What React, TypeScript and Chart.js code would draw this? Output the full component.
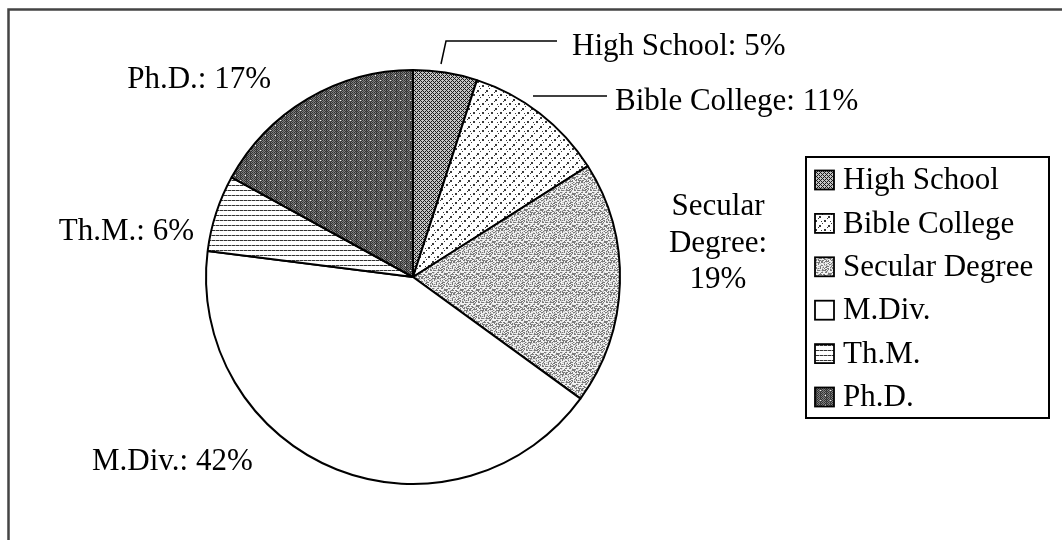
import React, { useEffect, useRef } from "react";
import { Chart, registerables } from "chart.js";

Chart.register(...registerables);

// ---- data ----
const categories: string[] = ["High School", "Bible College", "Secular Degree", "M.Div.", "Th.M.", "Ph.D."];
const percentages: number[] = [5, 11, 19, 42, 6, 17];

// ---- style ----
const FONT = "31px 'Liberation Serif', 'Times New Roman', serif";

function makeTile(w: number, h: number, fn: (x: number, y: number) => string): HTMLCanvasElement {
  const c = document.createElement("canvas");
  c.width = w;
  c.height = h;
  const ctx = c.getContext("2d")!;
  for (let y = 0; y < h; y++) {
    for (let x = 0; x < w; x++) {
      ctx.fillStyle = fn(x, y);
      ctx.fillRect(x, y, 1, 1);
    }
  }
  return c;
}

function makePatterns(ctx: CanvasRenderingContext2D): (CanvasPattern | string)[] {
  const hs = makeTile(4, 4, (x, y) => ((x + y) % 4 === 0 || (x - y + 4) % 4 === 0 ? "#1c1c1c" : "#c4c4c4"));
  const bc = makeTile(9, 9, (x, y) => {
    const dots = [[0, 0], [1, 0], [0, 1], [1, 1], [5, 4], [6, 5], [5, 5], [6, 4], [3, 7], [8, 2], [2, 5]];
    return dots.some(([a, b]) => a === x && b === y) ? "#3a3a3a" : "#ffffff";
  });
  const sd = makeTile(16, 16, (x, y) => {
    const h = ((x * 37 + y * 71 + x * y * 13) ^ (x * 5 + y * 3)) % 10;
    return h < 3 ? "#7a7a7a" : h < 5 ? "#c4c4c4" : "#f2f2f2";
  });
  const th = makeTile(4, 5, (x, y) => (y === 0 ? (x < 3 ? "#333333" : "#999999") : "#ffffff"));
  const ph = makeTile(10, 10, (x, y) => {
    if (x === 5 && y === 5) return "#ffffff";
    if (x === 0 && y === 0) return "#eeeeee";
    const base = (x + y) % 2 === 0 ? "#303030" : "#7e7e7e";
    return x % 3 === 0 && y % 2 === 1 ? "#4a4a4a" : base;
  });
  return [
    ctx.createPattern(hs, "repeat")!,
    ctx.createPattern(bc, "repeat")!,
    ctx.createPattern(sd, "repeat")!,
    "#ffffff",
    ctx.createPattern(th, "repeat")!,
    ctx.createPattern(ph, "repeat")!,
  ];
}

// label layout relative to pie centre (style only)
type LabelLayout = { dx: number; dy: number; align: CanvasTextAlign; lines?: string[]; leader?: [number, number][] };
const labelLayout: LabelLayout[] = [
  { dx: 159, dy: -222, align: "left", leader: [[28, -213], [33, -236], [144, -236]] },
  { dx: 202, dy: -167, align: "left", leader: [[120, -181], [194, -181]] },
  { dx: 305, dy: -62, align: "center", lines: ["Secular", "Degree:", "19%"] },
  { dx: -321, dy: 193, align: "left" },
  { dx: -219, dy: -37, align: "right" },
  { dx: -142, dy: -189, align: "right" },
];

const framePlugin = {
  id: "frame",
  beforeDraw(chart: any) {
    const ctx = chart.ctx as CanvasRenderingContext2D;
    ctx.save();
    ctx.fillStyle = "#ffffff";
    ctx.fillRect(0, 0, chart.width, chart.height);
    ctx.strokeStyle = "#444444";
    ctx.lineWidth = 2.5;
    ctx.beginPath();
    ctx.moveTo(chart.width, 9.5);
    ctx.lineTo(8.5, 9.5);
    ctx.lineTo(8.5, chart.height);
    ctx.stroke();
    ctx.restore();
  },
};

const labelPlugin = {
  id: "pieLabels",
  afterDraw(chart: any) {
    const ctx = chart.ctx as CanvasRenderingContext2D;
    const meta = chart.getDatasetMeta(0);
    const arc0 = meta.data[0];
    const cx = arc0.x;
    const cy = arc0.y;
    const labels: string[] = chart.data.labels;
    const vals: number[] = chart.data.datasets[0].data;
    ctx.save();
    ctx.font = FONT;
    ctx.fillStyle = "#000";
    ctx.textBaseline = "alphabetic";
    labels.forEach((lab, i) => {
      const L = labelLayout[i];
      ctx.textAlign = L.align;
      const lines = L.lines ?? [`${lab}: ${vals[i]}%`];
      lines.forEach((ln, k) => {
        ctx.fillText(ln, cx + L.dx, cy + L.dy + k * 36.5);
      });
      if (L.leader) {
        ctx.strokeStyle = "#000";
        ctx.lineWidth = 1.5;
        ctx.beginPath();
        L.leader.forEach(([px, py], k) => {
          if (k === 0) ctx.moveTo(cx + px, cy + py);
          else ctx.lineTo(cx + px, cy + py);
        });
        ctx.stroke();
      }
    });

    // legend box
    const bx = 806, by = 157, bw = 243, bh = 261;
    ctx.lineWidth = 2;
    ctx.strokeStyle = "#000";
    ctx.strokeRect(bx, by, bw, bh);
    const bg = chart.data.datasets[0].backgroundColor;
    ctx.textAlign = "left";
    ctx.textBaseline = "middle";
    labels.forEach((lab, i) => {
      const ry = 180 + i * 43.4;
      const sx = 815, s = 19;
      ctx.fillStyle = bg[i];
      ctx.fillRect(sx, ry - s / 2, s, s);
      ctx.lineWidth = 1.8;
      ctx.strokeRect(sx, ry - s / 2, s, s);
      ctx.fillStyle = "#000";
      ctx.fillText(lab, 843, ry + 1);
    });
    ctx.restore();
  },
};

export default function App() {
  const ref = useRef<HTMLCanvasElement | null>(null);
  useEffect(() => {
    const canvas = ref.current!;
    const ctx = canvas.getContext("2d")!;
    const patterns = makePatterns(ctx);
    const chart = new Chart(ctx, {
      type: "pie",
      data: {
        labels: categories,
        datasets: [
          {
            data: percentages,
            backgroundColor: patterns as any,
            borderColor: "#000000",
            borderWidth: 2,
            radius: 207,
          } as any,
        ],
      },
      options: {
        responsive: false,
        animation: false,
        devicePixelRatio: 1,
        layout: { padding: { left: 163, right: 399, top: 27, bottom: 13 } },
        plugins: {
          legend: { display: false },
          tooltip: { enabled: false },
        },
        events: [],
      },
      plugins: [framePlugin, labelPlugin],
    });
    return () => chart.destroy();
  }, []);
  return (
    <div style={{ position: "fixed", left: 0, top: 0, width: 1062, height: 540, background: "#fff" }}>
      <canvas ref={ref} width={1062} height={540} style={{ width: 1062, height: 540, display: "block" }} />
    </div>
  );
}
